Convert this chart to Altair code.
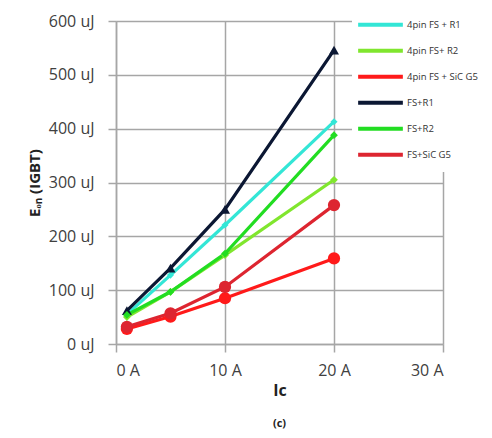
import altair as alt
import pandas as pd

series_names = ["4pin FS + R1", "4pin FS+ R2", "4pin FS + SiC G5", "FS+R1", "FS+R2", "FS+SiC G5"]
series_colors = ["#33e6d6", "#80e62e", "#ff1a1a", "#0b1733", "#22dd22", "#dd2530"]
series_shapes = ["diamond", "diamond", "circle", "triangle-up", "diamond", "circle"]
series_sizes = [50, 60, 150, 100, 60, 150]
ic_values = [1, 5, 10, 20]
energy = {
    "4pin FS + R1": [55, 128, 221, 413],
    "4pin FS+ R2": [50, 97, 165, 305],
    "4pin FS + SiC G5": [28, 51, 85, 159],
    "FS+R1": [62, 141, 250, 546],
    "FS+R2": [54, 97, 168, 388],
    "FS+SiC G5": [32, 57, 106, 258],
}

rows = []
for i, s in enumerate(series_names):
    for x, y in zip(ic_values, energy[s]):
        rows.append({"series": s, "Ic": x, "E": y, "col": series_colors[i],
                     "shp": series_shapes[i], "sz": series_sizes[i]})
df = pd.DataFrame(rows)

W, H = 327, 323
grey = "#a6a6a6"
font = "Open Sans"

xenc = alt.X("Ic:Q", scale=alt.Scale(domain=[0, 30], nice=False),
             axis=alt.Axis(values=[0, 10, 20, 30], labelExpr="datum.value + ' A'",
                           title="Ic", titleFontSize=16, titleFontWeight="bold",
                           titleColor="#222222", titlePadding=4,
                           labelFontSize=16, labelColor="#404040", labelPadding=10,
                           tickSize=8, tickColor=grey, tickWidth=1.5,
                           domainColor=grey, domainWidth=1.5,
                           gridColor=grey, gridWidth=1.5, labelFont=font, titleFont=font))
yenc = alt.Y("E:Q", scale=alt.Scale(domain=[0, 600], nice=False),
             axis=alt.Axis(values=[0, 100, 200, 300, 400, 500, 600],
                           labelExpr="datum.value + ' uJ'",
                           title="Eₒₙ (IGBT)", titleFontSize=15, titleFontWeight="bold",
                           titleColor="#222222", titlePadding=6,
                           labelFontSize=16, labelColor="#404040", labelPadding=14,
                           tickSize=8, tickColor=grey, tickWidth=1.5,
                           domainColor=grey, domainWidth=1.5,
                           gridColor=grey, gridWidth=1.5, labelFont=font, titleFont=font))

color_scale = alt.Scale(domain=series_names, range=series_colors)

lines = alt.Chart(df).mark_line(strokeWidth=3.2).encode(
    x=xenc, y=yenc,
    color=alt.Color("series:N", scale=color_scale,
                    legend=alt.Legend(title=None, orient="none", legendX=236, legendY=-13,
                                      symbolType="stroke", symbolSize=2000,
                                      symbolStrokeWidth=4, labelFontSize=9.5,
                                      labelColor="#333333", labelFont=font,
                                      labelLimit=200, rowPadding=0, clipHeight=25.5,
                                      fillColor="white", padding=4,
                                      labelOffset=2)),
    order=alt.Order("Ic:Q"),
)

points = alt.Chart(df).mark_point(filled=True, opacity=1).encode(
    x="Ic:Q", y="E:Q",
    color=alt.Color("col:N", scale=None),
    shape=alt.Shape("shp:N", scale=None),
    size=alt.Size("sz:Q", scale=None),
)

cap = alt.Chart(pd.DataFrame({"t": ["(c)"]})).mark_text(
    fontSize=11, fontWeight="bold", font=font, color="#222222"
).encode(text="t:N", x=alt.value(W / 2), y=alt.value(H + 80))

chart = alt.layer(lines, points, cap).properties(
    width=W, height=H,
    autosize=alt.AutoSizeParams(type="none"),
    padding={"left": 108, "top": 13, "right": 41, "bottom": 86},
).configure_view(stroke=None)

chart.save("out.html", embed_options={"renderer": "svg", "actions": False})
